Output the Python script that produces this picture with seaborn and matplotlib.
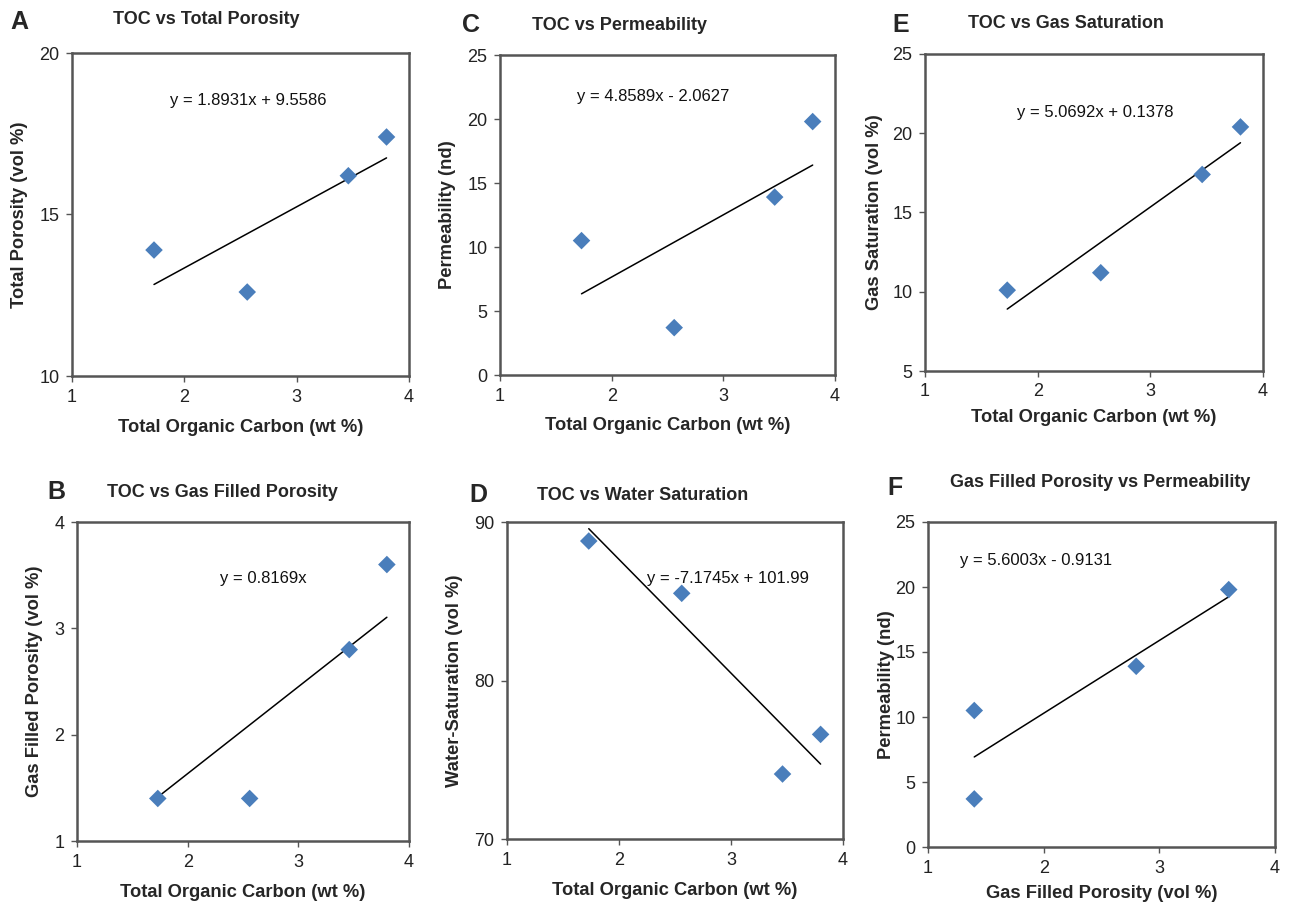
import numpy as np
import pandas as pd
import matplotlib
matplotlib.use("Agg")
import matplotlib.pyplot as plt
import seaborn as sns

# ---------------- data ----------------
toc = [1.73, 2.56, 3.46, 3.80]
total_porosity = [13.9, 12.6, 16.2, 17.4]
permeability = [10.5, 3.7, 13.9, 19.8]
gas_saturation = [10.1, 11.2, 17.4, 20.4]
gas_filled_porosity = [1.4, 1.4, 2.8, 3.6]
water_saturation = [88.8, 85.5, 74.1, 76.6]

# trend-line coefficients (slope, intercept) as printed on the chart
fit_A = [1.8931, 9.5586]
fit_C = [4.8589, -2.0627]
fit_E = [5.0692, 0.1378]
fit_B = [0.8169, 0.0]
fit_D = [-7.1745, 101.99]
fit_F = [5.6003, -0.9131]

eq_A = "y = 1.8931x + 9.5586"
eq_C = "y = 4.8589x - 2.0627"
eq_E = "y = 5.0692x + 0.1378"
eq_B = "y = 0.8169x"
eq_D = "y = -7.1745x + 101.99"
eq_F = "y = 5.6003x - 0.9131"

xticks_all = [1, 2, 3, 4]
yticks_A = [10, 15, 20]
yticks_C = [0, 5, 10, 15, 20, 25]
yticks_E = [5, 10, 15, 20, 25]
yticks_B = [1, 2, 3, 4]
yticks_D = [70, 80, 90]
yticks_F = [0, 5, 10, 15, 20, 25]

# ---------------- style ----------------
sns.set_style("white")
plt.rcParams["font.family"] = ["Liberation Sans", "DejaVu Sans"]

W, H = 1291, 913
fig = plt.figure(figsize=(W / 100, H / 100), dpi=100)
fig.patch.set_facecolor("white")

MARKER_COLOR = "#4A7EBB"
FRAME = "#555555"
HALF_LABEL = 8  # half the label height in pixels


def px2fig(x, y):
    return x / W, 1 - y / H


def panel(box, x, y, fit, eq, eq_pos, xlabel, ylabel, yticks,
          letter, letter_pos, title, title_pos, ylab_x, xlab_y):
    l, t, r, b = box
    ax = fig.add_axes([l / W, 1 - b / H, (r - l) / W, (b - t) / H])
    df = pd.DataFrame({"x": x, "y": y})
    sns.scatterplot(data=df, x="x", y="y", marker="D", s=80,
                    color=MARKER_COLOR, edgecolor="none", ax=ax, zorder=3)
    xs = np.array([min(x), max(x)])
    ldf = pd.DataFrame({"x": xs, "y": fit[0] * xs + fit[1]})
    sns.lineplot(data=ldf, x="x", y="y", color="black", lw=1.1, ax=ax,
                 zorder=2)
    ax.set_xlim(xticks_all[0], xticks_all[-1])
    ax.set_ylim(yticks[0], yticks[-1])
    ax.set_xticks(xticks_all)
    ax.set_yticks(yticks)
    ax.tick_params(axis="both", which="major", direction="out", length=4,
                   width=1, color=FRAME, labelsize=13, pad=5,
                   labelcolor="#222222", bottom=True, left=True)
    for sp in ax.spines.values():
        sp.set_color(FRAME)
        sp.set_linewidth(1.8)
    ax.set_xlabel(xlabel, fontsize=13.2, fontweight="bold")
    ax.set_ylabel(ylabel, fontsize=13.2, fontweight="bold")
    ax.yaxis.set_label_coords((ylab_x + HALF_LABEL - l) / (r - l), 0.5)
    ax.xaxis.set_label_coords(0.5, (b - (xlab_y - HALF_LABEL)) / (b - t))
    # equation
    ex, ey = px2fig(*eq_pos)
    fig.text(ex, ey, eq, fontsize=12, ha="left", va="center", color="#111111")
    lx, ly = px2fig(*letter_pos)
    fig.text(lx, ly, letter, fontsize=18, fontweight="bold", ha="left",
             va="center")
    tx, ty = px2fig(*title_pos)
    fig.text(tx, ty, title, fontsize=13, fontweight="bold", ha="left",
             va="center")
    return ax


toc_label = "Total Organic Carbon (wt %)"

panel((72, 53, 409, 376), toc, total_porosity, fit_A, eq_A, (170, 100),
      toc_label, "Total Porosity (vol %)", yticks_A,
      "A", (10, 22), "TOC vs Total Porosity", (113, 20), 20, 427)

panel((500, 55, 835, 375), toc, permeability, fit_C, eq_C, (577, 97),
      toc_label, "Permeability (nd)", yticks_C,
      "C", (462, 25), "TOC vs Permeability", (532, 25), 448, 425)

panel((925, 54, 1263, 371), toc, gas_saturation, fit_E, eq_E, (1017, 112),
      toc_label, "Gas Saturation (vol %)", yticks_E,
      "E", (892, 25), "TOC vs Gas Saturation", (968, 23), 875, 417)

panel((77, 522, 409, 841), toc, gas_filled_porosity, fit_B, eq_B, (220, 578),
      toc_label, "Gas Filled Porosity (vol %)", yticks_B,
      "B", (47, 492), "TOC vs Gas Filled Porosity", (107, 492), 35, 892)

panel((507, 522, 843, 839), toc, water_saturation, fit_D, eq_D, (647, 578),
      toc_label, "Water-Saturation (vol %)", yticks_D,
      "D", (469, 495), "TOC vs Water Saturation", (537, 495), 455, 890)

panel((928, 522, 1275, 847), gas_filled_porosity, permeability, fit_F, eq_F,
      (960, 560), "Gas Filled Porosity (vol %)", "Permeability (nd)", yticks_F,
      "F", (887, 488), "Gas Filled Porosity vs Permeability", (950, 482),
      887, 893)

fig.savefig("out.png", dpi=100, facecolor="white")
